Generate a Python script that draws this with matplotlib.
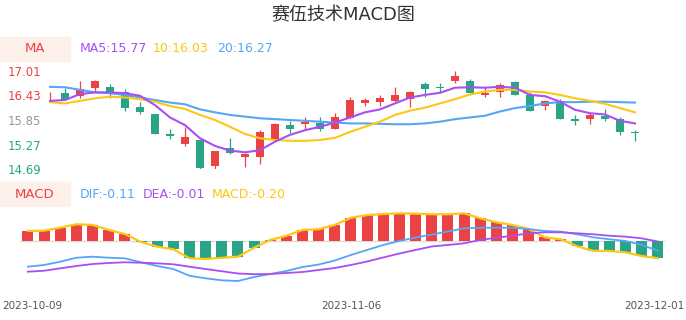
import numpy as np
import matplotlib
matplotlib.use("Agg")
import matplotlib.pyplot as plt
from matplotlib.patches import Rectangle
from matplotlib.transforms import ScaledTranslation

# ---- data ----
dates = ["2023-10-09", "2023-10-10", "2023-10-11", "2023-10-12", "2023-10-13",
         "2023-10-16", "2023-10-17", "2023-10-18", "2023-10-19", "2023-10-20",
         "2023-10-23", "2023-10-24", "2023-10-25", "2023-10-26", "2023-10-27",
         "2023-10-30", "2023-10-31", "2023-11-01", "2023-11-02", "2023-11-03",
         "2023-11-06", "2023-11-07", "2023-11-08", "2023-11-09", "2023-11-10",
         "2023-11-13", "2023-11-14", "2023-11-15", "2023-11-16", "2023-11-17",
         "2023-11-20", "2023-11-21", "2023-11-22", "2023-11-23", "2023-11-24",
         "2023-11-27", "2023-11-28", "2023-11-29", "2023-11-30", "2023-12-01"]

opens = [16.38, 16.49, 16.41, 16.60, 16.63, 16.52, 16.15, 15.99, 15.52, 15.29,
         15.38, 14.77, 15.19, 14.98, 14.98, 15.38, 15.74, 15.75, 15.79, 15.64,
         15.89, 16.26, 16.27, 16.30, 16.34, 16.69, 16.63, 16.77, 16.77, 16.43,
         16.52, 16.74, 16.45, 16.19, 16.29, 15.87, 15.87, 15.94, 15.87, 15.57]
closes = [16.38, 16.32, 16.57, 16.77, 16.50, 16.13, 16.05, 15.51, 15.47, 15.46,
          14.73, 15.12, 15.07, 15.05, 15.57, 15.75, 15.65, 15.81, 15.65, 15.93,
          16.32, 16.32, 16.36, 16.45, 16.52, 16.57, 16.61, 16.89, 16.49, 16.48,
          16.67, 16.45, 16.07, 16.29, 15.87, 15.83, 15.97, 15.87, 15.56, 15.54]
highs = [16.52, 16.60, 16.77, 16.79, 16.70, 16.57, 16.27, 16.00, 15.65, 15.69,
         15.38, 15.12, 15.43, 15.07, 15.61, 15.79, 15.83, 15.93, 15.93, 16.02,
         16.38, 16.37, 16.44, 16.63, 16.53, 16.74, 16.71, 17.00, 16.81, 16.63,
         16.71, 16.77, 16.50, 16.32, 16.34, 15.96, 16.02, 16.11, 15.93, 15.61]
lows = [16.29, 16.32, 16.37, 16.52, 16.36, 16.07, 15.98, 15.51, 15.40, 15.25,
        14.69, 14.69, 15.05, 14.74, 14.81, 15.38, 15.54, 15.61, 15.60, 15.64,
        15.89, 16.18, 16.19, 16.28, 16.15, 16.40, 16.52, 16.71, 16.49, 16.38,
        16.38, 16.45, 16.07, 16.09, 15.87, 15.74, 15.75, 15.83, 15.50, 15.36]

ma5 = [16.30, 16.32, 16.46, 16.50, 16.50, 16.48, 16.42, 16.20, 15.91, 15.73,
       15.42, 15.24, 15.13, 15.09, 15.14, 15.34, 15.50, 15.61, 15.69, 15.79,
       15.91, 16.03, 16.10, 16.24, 16.38, 16.44, 16.49, 16.61, 16.62, 16.61,
       16.63, 16.61, 16.44, 16.41, 16.28, 16.09, 16.01, 15.98, 15.83, 15.77]
ma10 = [16.27, 16.24, 16.30, 16.36, 16.40, 16.38, 16.34, 16.28, 16.18, 16.11,
        15.97, 15.85, 15.69, 15.52, 15.42, 15.38, 15.36, 15.36, 15.38, 15.43,
        15.57, 15.69, 15.81, 15.97, 16.07, 16.14, 16.24, 16.34, 16.45, 16.52,
        16.56, 16.56, 16.52, 16.50, 16.44, 16.36, 16.30, 16.23, 16.13, 16.03]
ma20 = [16.63, 16.62, 16.56, 16.50, 16.48, 16.44, 16.38, 16.32, 16.26, 16.22,
        16.10, 16.03, 15.97, 15.93, 15.89, 15.87, 15.85, 15.83, 15.81, 15.79,
        15.77, 15.77, 15.76, 15.75, 15.75, 15.77, 15.81, 15.87, 15.91, 15.95,
        16.05, 16.13, 16.18, 16.24, 16.27, 16.27, 16.28, 16.28, 16.27, 16.26]

dif = [-0.298, -0.278, -0.240, -0.194, -0.182, -0.194, -0.201, -0.247, -0.290, -0.325,
       -0.403, -0.433, -0.456, -0.464, -0.418, -0.383, -0.348, -0.302, -0.273, -0.226,
       -0.162, -0.104, -0.046, 0.000, 0.041, 0.075, 0.110, 0.147, 0.154, 0.154,
       0.154, 0.139, 0.116, 0.108, 0.078, 0.043, 0.020, 0.000, -0.046, -0.112]
dea = [-0.356, -0.345, -0.317, -0.290, -0.267, -0.255, -0.247, -0.252, -0.259, -0.270,
       -0.298, -0.325, -0.351, -0.377, -0.385, -0.383, -0.371, -0.360, -0.336, -0.313,
       -0.278, -0.238, -0.191, -0.145, -0.104, -0.064, -0.046, -0.027, 0.012, 0.038,
       0.061, 0.089, 0.101, 0.101, 0.089, 0.078, 0.061, 0.050, 0.031, -0.006]
macd = [0.116, 0.120, 0.154, 0.194, 0.186, 0.128, 0.081, -0.012, -0.066, -0.096,
        -0.200, -0.209, -0.195, -0.182, -0.078, 0.012, 0.061, 0.128, 0.136, 0.186,
        0.270, 0.300, 0.313, 0.321, 0.317, 0.310, 0.310, 0.321, 0.263, 0.217,
        0.186, 0.139, 0.043, 0.020, -0.061, -0.113, -0.116, -0.131, -0.174, -0.200]

price_ticks = [17.01, 16.43, 15.85, 15.27, 14.69]
date_ticks = [0, 20, 39]

RED = "#eb4343"
GREEN = "#2aa487"
PURPLE = "#a84ef3"
YELLOW = "#fbc814"
BLUE = "#55a6f6"

W, H = 686, 320


def px_axes(fig, left, top, width, height):
    return fig.add_axes([left / W, 1 - (top + height) / H, width / W, height / H])


fig = plt.figure(figsize=(W / 100, H / 100), dpi=100)
fig.patch.set_facecolor("white")

x = np.arange(len(dates))

# ---- candle panel ----
ax = px_axes(fig, 42.5, 70.7, 600, 98.6)
for i in x:
    c = RED if closes[i] >= opens[i] else GREEN
    ax.vlines(i, lows[i], highs[i], color=c, linewidth=0.9, zorder=2)
    lo, hi = min(opens[i], closes[i]), max(opens[i], closes[i])
    ax.bar(i, max(hi - lo, 0.012), bottom=lo, width=0.5, color=c, linewidth=0, zorder=3)
ax.plot(x, ma20, color=BLUE, lw=1.5, zorder=4)
ax.plot(x, ma10, color=YELLOW, lw=1.5, zorder=4)
ax.plot(x, ma5, color=PURPLE, lw=1.5, zorder=4)
ax.set_xlim(-0.5, len(dates) - 0.5)
ax.set_ylim(price_ticks[-1], price_ticks[0])
ax.set_yticks(price_ticks)
ax.set_yticklabels([f"{v:.2f}" for v in price_ticks], fontsize=8.5)
for lab, col in zip(ax.get_yticklabels(), [RED, RED, "#999999", GREEN, GREEN]):
    lab.set_color(col)
ax.tick_params(axis="y", length=0, pad=1)
ax.set_xticks([])
for s in ax.spines.values():
    s.set_visible(False)
ax.patch.set_alpha(0)

# ---- MACD panel ----
ax2 = px_axes(fig, 19.9, 205, 646, 85)
scale = 0.0116
ax2.set_ylim(-(290 - 241) * scale, (241 - 205) * scale)
ax2.set_xlim(-0.5, len(dates) - 0.5)
ax2.axhline(0, color="#dddddd", lw=1, zorder=1)
bar_cols = [RED if v >= 0 else GREEN for v in macd]
ax2.bar(x, macd, width=0.68, color=bar_cols, linewidth=0, zorder=2)
ax2.plot(x, macd, color=YELLOW, lw=1.6, zorder=3)
ax2.plot(x, dif, color=BLUE, lw=1.3, zorder=3)
ax2.plot(x, dea, color=PURPLE, lw=1.3, zorder=3)
ax2.set_yticks([])
ax2.set_xticks(date_ticks)
ax2.set_xticklabels([dates[i] for i in date_ticks], fontsize=7.5, color="#555555")
ax2.tick_params(axis="x", length=0, pad=8)
# keep the end labels inside the figure
ticklabs = ax2.get_xticklabels()
ticklabs[0].set_horizontalalignment("left")
ticklabs[-1].set_horizontalalignment("right")
ticklabs[0].set_transform(ticklabs[0].get_transform() + ScaledTranslation(-0.26, 0, fig.dpi_scale_trans))
ticklabs[-1].set_transform(ticklabs[-1].get_transform() + ScaledTranslation(0.27, 0, fig.dpi_scale_trans))
for s in ax2.spines.values():
    s.set_visible(False)
ax2.patch.set_alpha(0)

# ---- header texts ----
fig.text(343 / W, 1 - 15 / H, "赛伍技术MACD图", ha="center", va="center",
         fontsize=13, color="#333333", family=["DejaVu Sans", "Noto Sans CJK SC"])

for y_box, name in [(37, "MA"), (182, "MACD")]:
    fig.patches.append(Rectangle((0, 1 - (y_box + 24) / H), 70 / W, 24 / H,
                                 transform=fig.transFigure, color="#fdf0eb", zorder=0))
    fig.text(35 / W, 1 - (y_box + 12) / H, name, ha="center", va="center",
             fontsize=9.5, color=RED)

for xp, txt, col in [(80, "MA5:15.77", PURPLE), (153, "10:16.03", YELLOW), (217, "20:16.27", BLUE)]:
    fig.text(xp / W, 1 - 49 / H, txt, ha="left", va="center", fontsize=9, color=col)
for xp, txt, col in [(80, "DIF:-0.11", BLUE), (143, "DEA:-0.01", PURPLE), (212, "MACD:-0.20", YELLOW)]:
    fig.text(xp / W, 1 - 194 / H, txt, ha="left", va="center", fontsize=9, color=col)

fig.savefig("out.png", dpi=100, facecolor="white")
